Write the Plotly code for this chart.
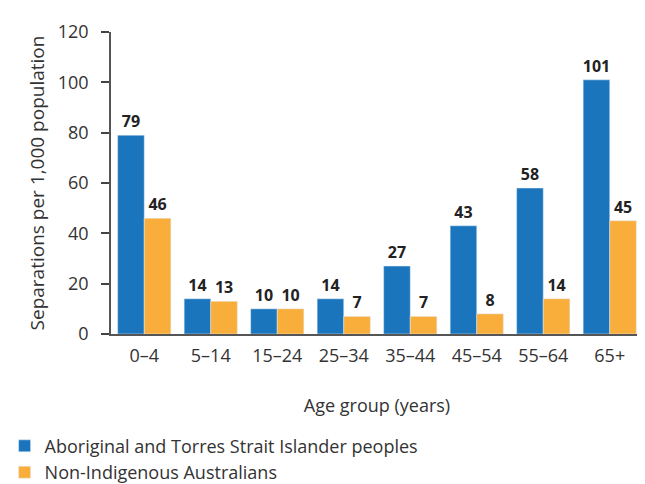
import plotly.graph_objects as go

age_groups = ["0–4", "5–14", "15–24", "25–34", "35–44", "45–54", "55–64", "65+"]
indigenous = [79, 14, 10, 14, 27, 43, 58, 101]
non_indigenous = [46, 13, 10, 7, 7, 8, 14, 45]

blue = "#1b75bc"
orange = "#f9ad3a"
font_family = "Open Sans, Lato, sans-serif"

fig = go.Figure()
fig.add_trace(go.Bar(
    x=age_groups, y=indigenous, name="Aboriginal and Torres Strait Islander peoples",
    marker_color=blue, text=indigenous, textposition="outside", constraintext="none",
    textfont=dict(size=16, color="#222", family=font_family, weight="bold"),
    cliponaxis=False,
))
fig.add_trace(go.Bar(
    x=age_groups, y=non_indigenous, name="Non-Indigenous Australians",
    marker_color=orange, text=non_indigenous, textposition="outside", constraintext="none",
    textfont=dict(size=16, color="#222", family=font_family, weight="bold"),
    cliponaxis=False,
))

fig.update_layout(
    width=645, height=484,
    margin=dict(l=103, r=10, t=24, b=158, autoexpand=False),
    paper_bgcolor="white", plot_bgcolor="white",
    font=dict(family=font_family, size=16, color="#333"),
    barmode="group", bargap=0.2, bargroupgap=0,
    showlegend=True,
    legend=dict(
        orientation="v", x=-0.2, y=-0.31, xanchor="left", yanchor="top",
        font=dict(size=18), tracegroupgap=0, itemwidth=30,
        bgcolor="rgba(0,0,0,0)",
    ),
)
fig.update_xaxes(
    showline=True, linecolor="#555", linewidth=1.5, ticks="", tickangle=0,
    ticklabelstandoff=5,
    title=dict(text="Age group (years)", standoff=33, font=dict(size=18)),
    tickfont=dict(size=18),
)
fig.update_yaxes(
    range=[0, 120], dtick=20, showgrid=False, zeroline=False,
    showline=True, linecolor="#555", linewidth=1.5,
    ticks="outside", ticklen=8, tickwidth=2, tickcolor="#444",
    ticksuffix="\u2002",
    title=dict(text="Separations per 1,000 population", standoff=8),
    tickfont=dict(size=18),
)

fig.write_html("out.html")
